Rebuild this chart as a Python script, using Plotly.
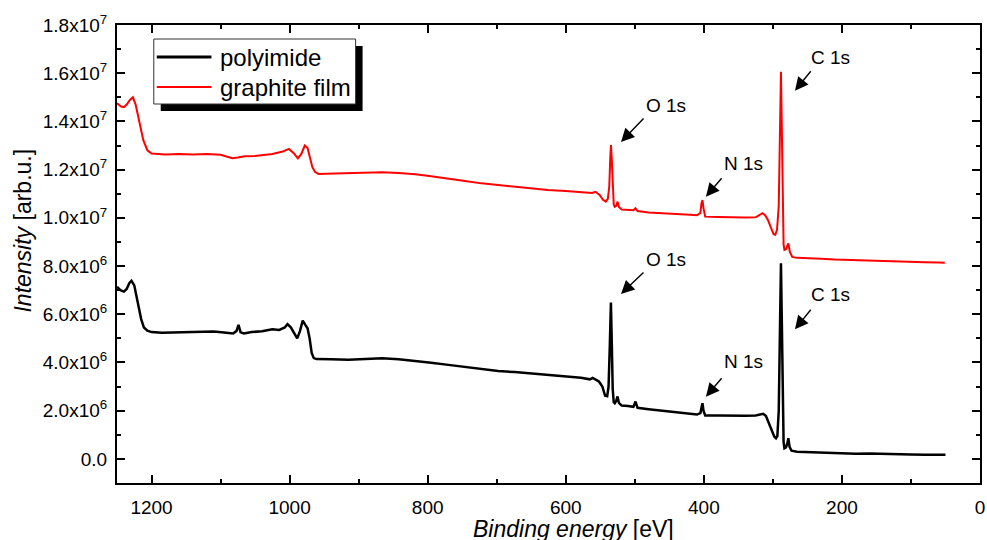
import plotly.graph_objects as go

# ---- XPS survey spectra (binding energy in eV, intensity in arb. units) ----
polyimide_energy = [
    1250, 1245, 1240, 1236, 1232, 1229, 1225, 1220, 1215, 1211, 1206, 1200,
    1185, 1170, 1150, 1130, 1110, 1095, 1082, 1077, 1074, 1071, 1066, 1055,
    1040, 1025, 1015, 1007, 1003, 998, 993, 989, 985, 981, 977, 974, 971,
    968, 965, 961, 940, 915, 890, 866, 842, 818, 795, 770, 746, 722, 698,
    674, 650, 626, 600, 578, 565, 561, 556, 552, 547, 543, 540, 538, 536.3,
    534.6, 533.3, 532, 530.5, 529, 527, 525, 523, 519, 510, 502, 499, 496,
    480, 460, 440, 420, 410, 405, 403.5, 402, 400.5, 398, 380, 360, 340,
    325, 318, 314, 310, 306, 302, 298, 295.5, 293.5, 291.5, 289.8, 288.3,
    287.2, 286, 284.5, 283.3, 281, 279, 277.6, 275.8, 273, 265, 250, 230,
    219, 200, 180, 160, 140, 120, 100, 80, 60, 50,
]
polyimide_intensity = [
    7.14e6, 7.00e6, 6.94e6, 7.05e6, 7.30e6, 7.39e6, 7.20e6, 6.50e6, 5.80e6,
    5.45e6, 5.32e6, 5.26e6, 5.23e6, 5.24e6, 5.26e6, 5.27e6, 5.28e6, 5.24e6,
    5.20e6, 5.30e6, 5.56e6, 5.25e6, 5.20e6, 5.26e6, 5.30e6, 5.38e6, 5.35e6,
    5.45e6, 5.59e6, 5.45e6, 5.20e6, 5.00e6, 5.30e6, 5.74e6, 5.55e6, 5.42e6,
    5.00e6, 4.40e6, 4.18e6, 4.14e6, 4.13e6, 4.11e6, 4.14e6, 4.18e6, 4.13e6,
    4.07e6, 3.99e6, 3.90e6, 3.81e6, 3.73e6, 3.65e6, 3.60e6, 3.55e6, 3.49e6,
    3.42e6, 3.37e6, 3.30e6, 3.36e6, 3.28e6, 3.21e6, 3.00e6, 2.62e6, 2.60e6,
    3.00e6, 4.60e6, 6.49e6, 4.80e6, 2.90e6, 2.35e6, 2.31e6, 2.40e6, 2.59e6,
    2.32e6, 2.21e6, 2.19e6, 2.16e6, 2.38e6, 2.12e6, 2.06e6, 1.99e6, 1.94e6,
    1.88e6, 1.84e6, 1.90e6, 2.10e6, 2.31e6, 2.00e6, 1.80e6, 1.80e6, 1.78e6,
    1.79e6, 1.80e6, 1.84e6, 1.87e6, 1.78e6, 1.50e6, 1.15e6, 0.93e6, 0.86e6,
    0.95e6, 2.00e6, 5.30e6, 8.12e6, 6.00e6, 2.60e6, 0.70e6, 0.44e6, 0.48e6,
    0.65e6, 0.86e6, 0.50e6, 0.34e6, 0.30e6, 0.28e6, 0.25e6, 0.24e6, 0.22e6,
    0.21e6, 0.22e6, 0.20e6, 0.19e6, 0.18e6, 0.175e6, 0.17e6, 0.17e6,
]

graphite_energy = [
    1250, 1244, 1240, 1236, 1231, 1227, 1223, 1218, 1212, 1206, 1200, 1180,
    1160, 1140, 1120, 1100, 1090, 1083, 1075, 1065, 1050, 1035, 1025, 1010,
    1001, 994, 988, 983, 978, 974, 971, 967, 963, 958, 935, 914, 890, 866,
    842, 818, 795, 770, 746, 722, 698, 674, 650, 626, 600, 578, 562, 557,
    551, 546, 542, 539, 537, 535.5, 534.5, 533.3, 532, 530.5, 529, 527, 525,
    523, 519, 510, 502, 499, 496, 480, 460, 440, 420, 410, 405, 403.5, 402,
    400.5, 398, 380, 360, 340, 325, 319, 315, 311, 307, 303, 299, 296.5, 294,
    291.5, 289.8, 288.3, 287.2, 286, 284.5, 283.3, 281, 279, 277.5, 275.5,
    272, 265, 250, 230, 210, 190, 170, 150, 130, 110, 98, 80, 60, 51,
]
graphite_intensity = [
    1.475e7, 1.462e7, 1.459e7, 1.470e7, 1.490e7, 1.500e7, 1.470e7, 1.400e7,
    1.323e7, 1.280e7, 1.267e7, 1.263e7, 1.265e7, 1.263e7, 1.265e7, 1.262e7,
    1.255e7, 1.247e7, 1.250e7, 1.255e7, 1.257e7, 1.262e7, 1.265e7, 1.275e7,
    1.286e7, 1.268e7, 1.247e7, 1.265e7, 1.300e7, 1.290e7, 1.250e7, 1.210e7,
    1.190e7, 1.182e7, 1.184e7, 1.185e7, 1.187e7, 1.189e7, 1.186e7, 1.181e7,
    1.173e7, 1.164e7, 1.153e7, 1.143e7, 1.136e7, 1.129e7, 1.122e7, 1.116e7,
    1.111e7, 1.106e7, 1.103e7, 1.108e7, 1.095e7, 1.075e7, 1.067e7, 1.080e7,
    1.130e7, 1.250e7, 1.302e7, 1.240e7, 1.110e7, 1.055e7, 1.046e7, 1.050e7,
    1.067e7, 1.045e7, 1.035e7, 1.033e7, 1.032e7, 1.040e7, 1.028e7, 1.022e7,
    1.020e7, 1.017e7, 1.013e7, 1.011e7, 1.020e7, 1.060e7, 1.074e7, 1.040e7,
    1.005e7, 1.004e7, 1.002e7, 1.001e7, 1.002e7, 1.012e7, 1.019e7, 1.010e7,
    9.90e6, 9.60e6, 9.32e6, 9.30e6, 9.50e6, 1.050e7, 1.350e7, 1.606e7,
    1.400e7, 1.080e7, 8.90e6, 8.67e6, 8.70e6, 8.85e6, 8.94e6, 8.60e6, 8.38e6,
    8.34e6, 8.33e6, 8.30e6, 8.27e6, 8.25e6, 8.23e6, 8.22e6, 8.20e6, 8.19e6,
    8.18e6, 8.16e6, 8.15e6, 8.14e6,
]

series_names = ["polyimide", "graphite film"]
series_colors = ["#000000", "#ff0000"]

# ---- axis ticks ----
x_tick_vals = [1200, 1000, 800, 600, 400, 200, 0]
x_tick_text = ["1200", "1000", "800", "600", "400", "200", "0"]
x_minor_vals = [1100, 900, 700, 500, 300, 100]

y_tick_vals = [0, 2e6, 4e6, 6e6, 8e6, 1.0e7, 1.2e7, 1.4e7, 1.6e7, 1.8e7]
y_tick_text = [
    "0.0", "2.0x10<sup>6</sup>", "4.0x10<sup>6</sup>", "6.0x10<sup>6</sup>",
    "8.0x10<sup>6</sup>", "1.0x10<sup>7</sup>", "1.2x10<sup>7</sup>",
    "1.4x10<sup>7</sup>", "1.6x10<sup>7</sup>", "1.8x10<sup>7</sup>",
]
y_minor_vals = [-1e6, 1e6, 3e6, 5e6, 7e6, 9e6, 1.1e7, 1.3e7, 1.5e7, 1.7e7]

# peak labels: (text, arrow-head energy, arrow-head intensity, label energy, label intensity)
peak_labels = [
    ("O 1s", 520, 1.3146e7, 455, 1.464e7),
    ("N 1s", 397, 1.0877e7, 343, 1.2275e7),
    ("C 1s", 268, 1.5274e7, 216, 1.667e7),
    ("O 1s", 520, 6.84e6, 455, 8.29e6),
    ("N 1s", 397, 2.58e6, 343, 4.02e6),
    ("C 1s", 268, 5.376e6, 216, 6.80e6),
]
arrow_tails = [(24, -25), (17, -20), (17, -21), (24, -23), (17, -20), (17, -21)]

FONT = "Liberation Sans, Arial, sans-serif"
W, H = 987, 540
ML, MR, MT, MB = 117, 2, 25, 57
PW, PH = W - ML - MR, H - MT - MB


def px(x):
    return (x - ML) / PW


def py(y):
    return (H - MB - y) / PH


fig = go.Figure()
fig.add_trace(go.Scatter(x=polyimide_energy, y=polyimide_intensity, mode="lines",
                         name=series_names[0], line=dict(color=series_colors[0], width=2.5),
                         showlegend=False))
fig.add_trace(go.Scatter(x=graphite_energy, y=graphite_intensity, mode="lines",
                         name=series_names[1], line=dict(color=series_colors[1], width=2),
                         showlegend=False))

annotations = []
for (label, hx, hy, tx, ty), (ax, ay) in zip(peak_labels, arrow_tails):
    annotations.append(dict(x=hx, y=hy, xref="x", yref="y", text="", showarrow=True,
                            ax=ax, ay=ay, arrowhead=2, arrowsize=1.9, arrowwidth=1.4,
                            arrowcolor="black", standoff=0))
    annotations.append(dict(x=tx, y=ty, xref="x", yref="y", text=label, showarrow=False,
                            font=dict(family=FONT, size=19, color="black"),
                            xanchor="center", yanchor="middle"))

# axis titles
annotations.append(dict(x=px(576), y=py(529), xref="paper", yref="paper",
                        text="<i>Binding energy</i> [eV]", showarrow=False,
                        font=dict(family=FONT, size=23, color="black"),
                        xanchor="center", yanchor="middle"))
annotations.append(dict(x=px(22), y=py(231), xref="paper", yref="paper",
                        text="<i>Intensity</i> [arb.u.]", showarrow=False, textangle=-90,
                        font=dict(family=FONT, size=23, color="black"),
                        xanchor="center", yanchor="middle"))

# legend box with drop shadow
shapes = [
    dict(type="rect", xref="paper", yref="paper", x0=px(161), x1=px(364), y0=py(111), y1=py(46),
         fillcolor="black", line=dict(width=0), layer="above"),
    dict(type="rect", xref="paper", yref="paper", x0=px(154), x1=px(357), y0=py(104), y1=py(39),
         fillcolor="white", line=dict(color="#333333", width=1), layer="above"),
]
legend_rows = [57, 87]
legend_widths = [3, 2]
for name, color, row, lw in zip(series_names, series_colors, legend_rows, legend_widths):
    shapes.append(dict(type="line", xref="paper", yref="paper", x0=px(157), x1=px(212),
                       y0=py(row), y1=py(row), line=dict(color=color, width=lw), layer="above"))
    annotations.append(dict(x=px(219), y=py(row), xref="paper", yref="paper", text=name,
                            showarrow=False, xanchor="left", yanchor="middle",
                            font=dict(family=FONT, size=24, color="black")))

axis_common = dict(showline=True, linecolor="black", linewidth=2, mirror="allticks",
                   ticks="inside", ticklen=8, tickwidth=1.5, tickcolor="black",
                   showgrid=False, zeroline=False, ticklabeloverflow="allow",
                   tickfont=dict(family=FONT, size=19, color="black"))

fig.update_layout(
    width=W, height=H,
    margin=dict(l=ML, r=MR, t=MT, b=MB),
    paper_bgcolor="white", plot_bgcolor="white",
    xaxis=dict(range=[1250, 0], tickmode="array", tickvals=x_tick_vals, ticktext=x_tick_text,
               minor=dict(tickmode="array", tickvals=x_minor_vals, ticks="inside",
                          ticklen=4, tickwidth=1.5, tickcolor="black"),
               ticklabelstandoff=6, **axis_common),
    yaxis=dict(range=[-1e6, 1.8e7], tickmode="array", tickvals=y_tick_vals, ticktext=y_tick_text,
               minor=dict(tickmode="array", tickvals=y_minor_vals, ticks="inside",
                          ticklen=4, tickwidth=1.5, tickcolor="black"),
               ticklabelstandoff=4, **axis_common),
    annotations=annotations,
    shapes=shapes,
)

fig.write_html("out.html")
